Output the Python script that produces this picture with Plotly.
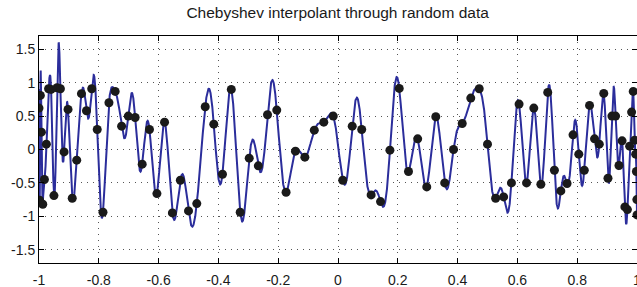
import numpy as np
import plotly.graph_objects as go

title_text = "Chebyshev interpolant through random data"

# number of data points (Chebyshev points of the 2nd kind on [-1, 1])
n_points = 100

# data values, left to right
data_values = [
    0.62, 0.81, -0.76, 0.81, 0.26, -0.82, -0.45, 0.08, 0.91, 0.90,
    -0.69, 0.925, 0.91, -0.036, 0.60, -0.73, -0.16, 0.836, 0.58, 0.91,
    0.30, -0.94, 0.70, 0.87, 0.35, 0.50, 0.48, -0.22, 0.30, -0.66,
    0.41, -0.95, -0.46, -0.92, -0.81, 0.64, 0.38, -0.37, 0.90, -0.94,
    -0.13, -0.245, 0.52, 0.59, -0.64, -0.025, -0.115, 0.29, 0.41, 0.50,
    -0.46, 0.35, 0.30, -0.68, -0.78, -0.01, 0.915, -0.33, 0.16, -0.56,
    0.49, -0.50, 0.00, 0.39, 0.77, 0.91, 0.08, -0.73, -0.71, -0.50,
    0.68, -0.50, 0.62, -0.52, 0.855, -0.31, -0.62, -0.51, 0.22, -0.07,
    -0.31, 0.66, 0.16, 0.08, 0.84, -0.43, 0.50, 0.50, -0.24, 0.13,
    -0.86, -0.90, 0.05, 0.56, 0.87, 0.14, -0.07, -0.33, -0.75, -0.98,
]

x_tick_values = [-1, -0.8, -0.6, -0.4, -0.2, 0, 0.2, 0.4, 0.6, 0.8, 1]
x_tick_labels = ["-1", "-0.8", "-0.6", "-0.4", "-0.2", "0", "0.2", "0.4", "0.6", "0.8", "1"]
y_tick_values = [-1.5, -1, -0.5, 0, 0.5, 1, 1.5]
y_tick_labels = ["-1.5", "-1", "-0.5", "0", "0.5", "1", "1.5"]

# Chebyshev points and the polynomial interpolant through the data (barycentric form)
x_nodes = -np.cos(np.pi * np.arange(n_points) / (n_points - 1))
f_nodes = np.array(data_values, dtype=float)
weights = (-1.0) ** np.arange(n_points)
weights[0] *= 0.5
weights[-1] *= 0.5

x_curve = -np.cos(np.linspace(0, np.pi, 8000))
diff = x_curve[:, None] - x_nodes[None, :]
exact = np.abs(diff) < 1e-13
diff[exact] = 1.0
coef = weights / diff
y_curve = (coef @ f_nodes) / coef.sum(axis=1)
rows, cols = np.nonzero(exact)
y_curve[rows] = f_nodes[cols]

fig = go.Figure()
fig.add_trace(go.Scatter(
    x=x_curve, y=y_curve, mode="lines",
    line=dict(color="#2b2d9b", width=2),
    hoverinfo="skip", showlegend=False,
))
fig.add_trace(go.Scatter(
    x=x_nodes, y=f_nodes, mode="markers",
    marker=dict(color="#1a1a1a", size=9, line=dict(width=0)),
    showlegend=False,
))

axis_common = dict(
    showline=True, linecolor="black", linewidth=1, mirror="ticks",
    ticks="inside", ticklen=5, tickcolor="black", tickwidth=1,
    showgrid=True, gridcolor="#555555", gridwidth=1, griddash="1px,5px",
    zeroline=False, ticklabeloverflow="allow",
    tickfont=dict(family="Liberation Sans, Arial, sans-serif", size=14, color="#1a1a1a"),
)

fig.update_layout(
    template="none",
    width=637, height=287,
    margin=dict(l=39, r=0, t=36, b=24, autoexpand=False),
    paper_bgcolor="white", plot_bgcolor="white",
    title=dict(
        text=title_text, x=0.53, xanchor="center", y=0.955, yanchor="middle",
        font=dict(family="Liberation Sans, Arial, sans-serif", size=15.5, color="#1a1a1a"),
    ),
    xaxis=dict(range=[-1, 1], tickvals=x_tick_values, ticktext=x_tick_labels,
               ticklabelstandoff=4, **axis_common),
    yaxis=dict(range=[-1.7, 1.7], tickvals=y_tick_values, ticktext=y_tick_labels, **axis_common),
)

fig.write_html(
    "out.html",
    config={"displayModeBar": False},
    post_script="document.body.style.margin='0';document.body.style.overflow='hidden';",
)
